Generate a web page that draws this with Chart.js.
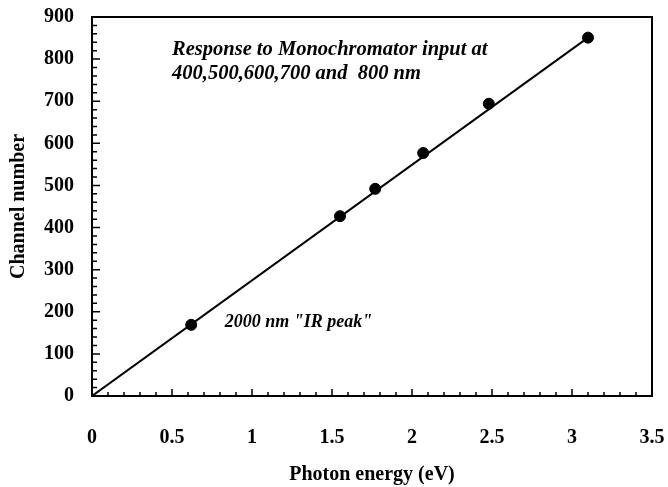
<!DOCTYPE html>
<html>
<head>
<meta charset="utf-8">
<script src="https://cdn.jsdelivr.net/npm/chart.js@4.4.1/dist/chart.umd.min.js"></script>
<style>
  html, body { margin: 0; padding: 0; background: #fff; }
  #wrap { width: 668px; height: 487px; }
</style>
</head>
<body>
<div id="wrap"><canvas id="chart" width="668" height="487"></canvas></div>
<script>
  // Monochromator wavelengths (nm) and the measured channel for each
  const wavelengthsNm = [2000, 800, 700, 600, 500, 400];
  const photonEnergy = [0.62, 1.55, 1.77, 2.07, 2.48, 3.1];
  const channelNumber = [169, 427, 492, 577, 694, 851];

  // Straight-line fit through the origin
  const fitEnergy = [0, 3.1];
  const fitChannel = [0, 851];

  const xTicks = [0, 0.5, 1, 1.5, 2, 2.5, 3, 3.5];
  const yTicks = [0, 100, 200, 300, 400, 500, 600, 700, 800, 900];

  const SERIF = "'Liberation Serif', 'Times New Roman', serif";

  // Plot box edges in canvas pixels
  const BOX = { left: 92, top: 17, right: 652, bottom: 396 };

  /**
   * Frame the plot area and draw inward minor/major tick marks.
   */
  const framePlugin = {
    id: 'frame',
    afterDatasetsDraw(chart) {
      const { ctx, chartArea: a, scales } = chart;
      ctx.save();
      ctx.strokeStyle = '#000';
      ctx.lineWidth = 2;
      ctx.strokeRect(a.left, a.top, a.right - a.left, a.bottom - a.top);

      ctx.lineWidth = 1.5;
      ctx.beginPath();
      for (let i = 0; i <= 35; i++) {
        const px = scales.x.getPixelForValue(i / 10);
        const len = i % 5 === 0 ? 7 : 4;
        ctx.moveTo(px, a.bottom);
        ctx.lineTo(px, a.bottom - len);
      }
      for (let i = 0; i <= 45; i++) {
        const py = scales.y.getPixelForValue(i * 20);
        const len = i % 5 === 0 ? 8 : 5;
        ctx.moveTo(a.left, py);
        ctx.lineTo(a.left + len, py);
      }
      ctx.stroke();
      ctx.restore();
    },
  };

  /**
   * Italic text notes placed in data coordinates.
   */
  const notesPlugin = {
    id: 'notes',
    afterDatasetsDraw(chart) {
      const { ctx, scales } = chart;
      ctx.save();
      ctx.fillStyle = '#000';
      ctx.textBaseline = 'middle';
      ctx.font = 'italic bold 20.5px ' + SERIF;
      ctx.fillText('Response to Monochromator input at', scales.x.getPixelForValue(0.5), scales.y.getPixelForValue(822));
      ctx.fillText('400,500,600,700 and  800 nm', scales.x.getPixelForValue(0.5), scales.y.getPixelForValue(766));
      ctx.font = 'italic bold 18px ' + SERIF;
      ctx.fillText('2000 nm "IR peak"', scales.x.getPixelForValue(0.83), scales.y.getPixelForValue(174));
      ctx.restore();
    },
  };

  new Chart(document.getElementById('chart'), {
    type: 'scatter',
    data: {
      datasets: [
        {
          label: 'Fit',
          type: 'line',
          data: fitEnergy.map((x, i) => ({ x, y: fitChannel[i] })),
          borderColor: '#000',
          borderWidth: 2,
          pointRadius: 0,
          fill: false,
        },
        {
          label: 'Measured',
          data: photonEnergy.map((x, i) => ({ x, y: channelNumber[i] })),
          backgroundColor: '#000',
          borderColor: '#000',
          pointRadius: 5.5,
          pointHoverRadius: 5.5,
        },
      ],
    },
    options: {
      responsive: false,
      animation: false,
      layout: { padding: { top: BOX.top, right: 668 - BOX.right, left: 0, bottom: 0 } },
      plugins: { legend: { display: false }, tooltip: { enabled: false } },
      scales: {
        x: {
          type: 'linear',
          min: 0,
          max: 3.5,
          afterBuildTicks: (s) => { s.ticks = xTicks.map((v) => ({ value: v })); },
          afterFit: (s) => {
            s.height = 487 - BOX.bottom;
            s.paddingLeft = 0;
            s.paddingRight = 0;
          },
          grid: { display: false, drawTicks: false },
          border: { display: false },
          ticks: {
            color: '#000',
            padding: 30,
            maxRotation: 0,
            callback: (v) => String(v),
            font: { family: SERIF, size: 20, weight: 'bold' },
          },
          title: {
            display: true,
            text: 'Photon energy (eV)',
            color: '#000',
            padding: { top: 0, bottom: 0 },
            font: { family: SERIF, size: 20, weight: 'bold' },
          },
        },
        y: {
          type: 'linear',
          min: 0,
          max: 900,
          afterBuildTicks: (s) => { s.ticks = yTicks.map((v) => ({ value: v })); },
          afterFit: (s) => {
            s.width = BOX.left;
            s.paddingTop = 0;
            s.paddingBottom = 0;
          },
          grid: { display: false, drawTicks: false },
          border: { display: false },
          ticks: {
            color: '#000',
            padding: 18,
            font: { family: SERIF, size: 20, weight: 'bold' },
          },
          title: {
            display: true,
            text: 'Channel number',
            color: '#000',
            padding: { top: 7, bottom: 0 },
            font: { family: SERIF, size: 20, weight: 'bold' },
          },
        },
      },
    },
    plugins: [framePlugin, notesPlugin],
  });
</script>
</body>
</html>
